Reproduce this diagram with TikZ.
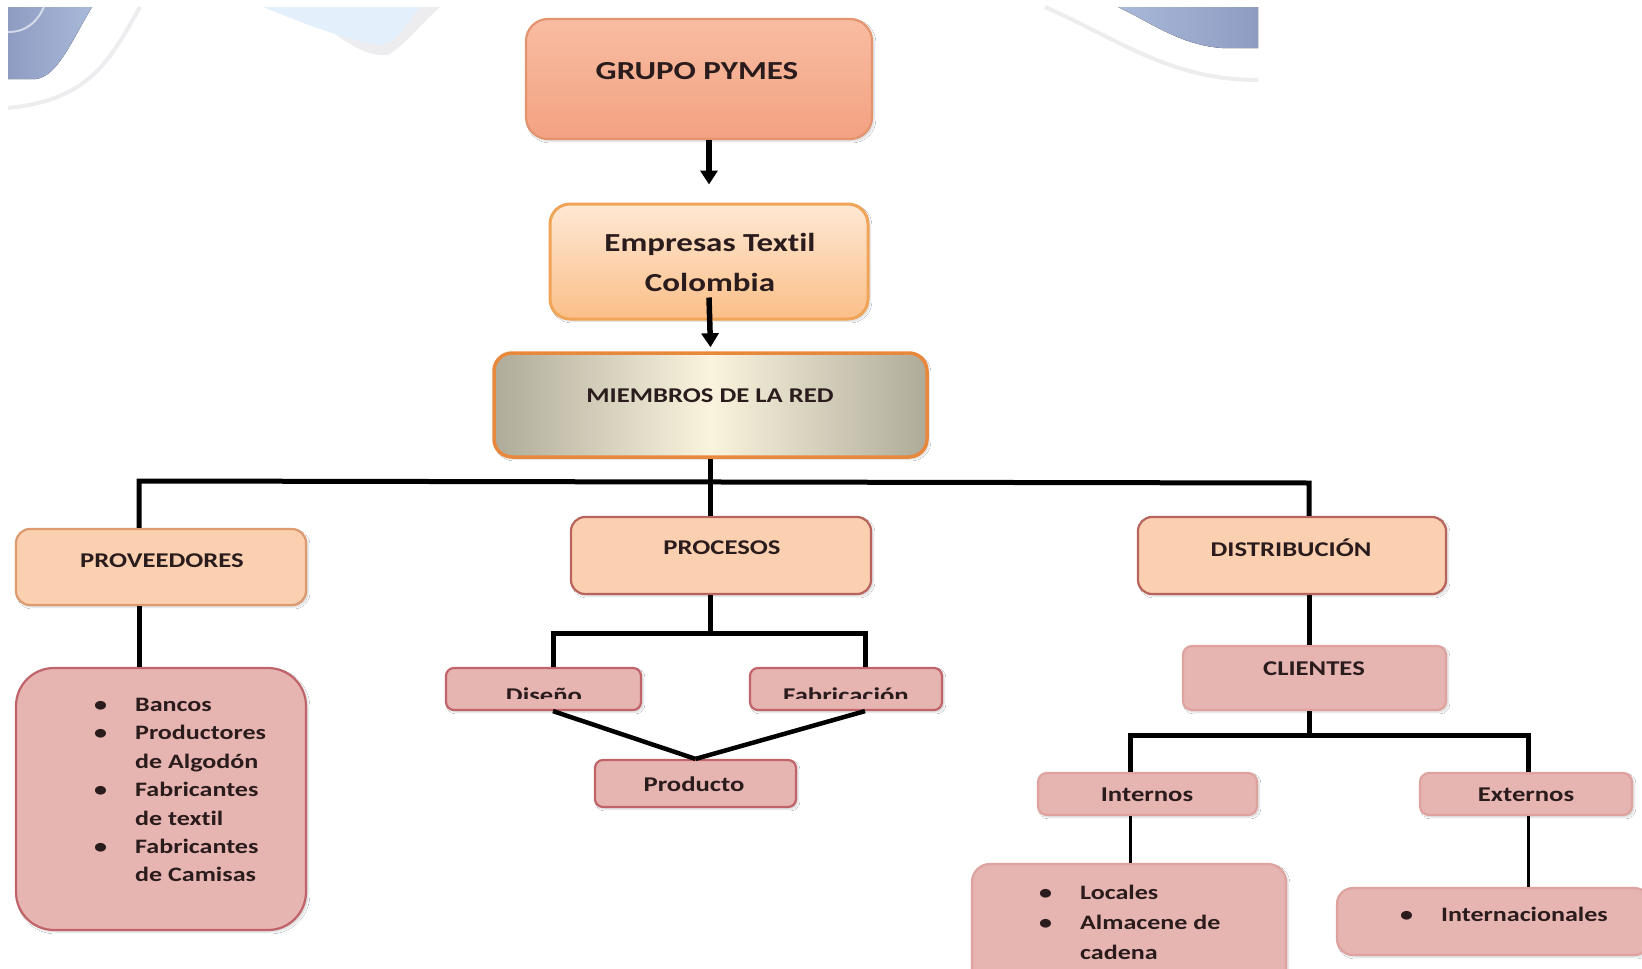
\documentclass[tikz,border=0pt]{standalone}
\usepackage{fontspec}
\setmainfont{Carlito}[FakeStretch=1.27, Ligatures=NoCommon]
\usetikzlibrary{arrows.meta,calc,shadows.blur}

\definecolor{txtcol}{HTML}{2A1C1C}
\definecolor{grupoTop}{HTML}{F8BCA2}
\definecolor{grupoBot}{HTML}{F3A281}
\definecolor{grupoLine}{HTML}{E4936F}
\definecolor{empTop}{HTML}{FEE8D4}
\definecolor{empBot}{HTML}{FBBF88}
\definecolor{empLine}{HTML}{F0A458}
\definecolor{redGrey}{HTML}{AEAB99}
\definecolor{redCream}{HTML}{FAF4DE}
\definecolor{redLine}{HTML}{E8883C}
\definecolor{peach}{HTML}{FBD0B1}
\definecolor{peachLine}{HTML}{DC9A6E}
\definecolor{peachLineDark}{HTML}{B8645C}
\definecolor{rose}{HTML}{E6B4B1}
\definecolor{roseLine}{HTML}{C0646A}
\definecolor{roseLineLight}{HTML}{DEA39E}
\definecolor{decoBlue}{HTML}{8E9CC2}
\definecolor{decoBlueL}{HTML}{A9B9D9}
\definecolor{decoSky}{HTML}{E3EFFA}
\definecolor{decoGrey}{HTML}{EDEDF0}

\tikzset{
  box/.style={draw, inner sep=0pt, line width=2.2pt,
    blur shadow={shadow xshift=2pt, shadow yshift=-2pt, shadow opacity=18, shadow blur steps=6}},
  grupobox/.style={box, rounded corners=22pt, draw=grupoLine, top color=grupoTop, bottom color=grupoBot},
  empbox/.style={box, rounded corners=20pt, draw=empLine, line width=3pt, top color=empTop, bottom color=empBot},
  redbox/.style={box, rounded corners=18pt, draw=redLine, line width=3.5pt, left color=redGrey, right color=redGrey, middle color=redCream},
  peachbox/.style={box, rounded corners=14pt, draw=peachLine, fill=peach},
  peachboxdark/.style={box, rounded corners=14pt, draw=peachLineDark, fill=peach},
  rosebox/.style={box, rounded corners=8pt, draw=roseLine, fill=rose},
  roseboxlight/.style={box, rounded corners=9pt, draw=roseLineLight, fill=rose},
  listbox/.style={box, rounded corners=38pt, draw=roseLine, fill=rose},
  lbl/.style={inner sep=0pt, text=txtcol, font=\bfseries\fontsize{21}{25}\selectfont},
  biglbl/.style={lbl, font=\bfseries\fontsize{26}{40}\selectfont},
  listlbl/.style={lbl, align=left, font=\bfseries\fontsize{20.5}{28.4}\selectfont},
  conn/.style={line width=5pt, black, line join=miter},
  midconn/.style={line width=4.5pt, black},
  thinconn/.style={line width=3pt, black},
  arr/.style={line width=5.5pt, black, -{Triangle[width=17pt,length=14pt]}},
}

\newcommand{\bul}{\makebox[41pt][l]{\textbullet}}
\newcommand{\ind}{\hspace*{41pt}}

\begin{document}
\begin{tikzpicture}[x=1pt,y=-1pt]
\useasboundingbox (0,0) rectangle (1642,969);
\fill[white] (0,0) rectangle (1642,969);

% faint decoration along the top edge
\draw[decoGrey, line width=4pt] (140,7) .. controls (110,60) and (90,100) .. (8,108);
\fill[left color=decoBlue, right color=decoBlueL] (8,7) -- (92,7) .. controls (72,40) and (58,76) .. (36,79) -- (8,79) -- cycle;
\draw[white, opacity=0.6, line width=2pt] (8,32) .. controls (28,32) and (38,20) .. (44,7);
\fill[decoGrey] (300,7) .. controls (330,30) and (360,58) .. (388,55) .. controls (405,45) and (420,25) .. (440,7) -- cycle;
\fill[decoSky] (263,7) -- (420,7) .. controls (405,25) and (398,44) .. (378,45) .. controls (340,38) and (300,22) .. (263,7) -- cycle;
\draw[decoGrey, line width=4pt] (1045,7) .. controls (1120,40) and (1170,80) .. (1258,80);
\fill[left color=decoBlueL, right color=decoBlue] (1118,7) -- (1258,7) -- (1258,48) -- (1222,48) .. controls (1180,45) and (1150,22) .. (1118,7) -- cycle;

% boxes
\node[grupobox, minimum width=346pt, minimum height=120pt] (grupo) at (699,79) {};
\node[empbox, minimum width=318pt, minimum height=115pt] (empresas) at (709,261.5) {};
\node[redbox, minimum width=433pt, minimum height=104pt] (miembros) at (710.5,405) {};
\node[peachbox, minimum width=290pt, minimum height=76pt] (proveedores) at (161,567) {};
\node[peachboxdark, minimum width=300pt, minimum height=77pt] (procesos) at (721,555.5) {};
\node[peachboxdark, minimum width=308pt, minimum height=77pt] (distribucion) at (1292,555.5) {};
\node[listbox, minimum width=290pt, minimum height=262pt] (provlist) at (161,799) {};
\node[rosebox, minimum width=195pt, minimum height=42pt] (diseno) at (543.5,689) {};
\node[rosebox, minimum width=192pt, minimum height=42pt] (fabricacion) at (846,689) {};
\node[rosebox, minimum width=201pt, minimum height=47pt] (producto) at (695.5,783.5) {};
\node[roseboxlight, minimum width=263pt, minimum height=64pt] (clientes) at (1314.5,678) {};
\node[roseboxlight, minimum width=219pt, minimum height=42pt] (internos) at (1147.5,794) {};
\node[roseboxlight, minimum width=212pt, minimum height=42pt] (externos) at (1526,794) {};
\node[roseboxlight, rounded corners=18pt, minimum width=314pt, minimum height=125pt] (locales) at (1129,926.5) {};
\node[roseboxlight, rounded corners=16pt, minimum width=313pt, minimum height=67pt] (internacionales) at (1493.5,921.5) {};

% box texts
\node[biglbl] (grupo-t) at (697,71) {GRUPO PYMES};
\node[biglbl, align=center] (empresas-t) at (710,262) {Empresas Textil\\Colombia};
\node[lbl] (miembros-t) at (710,396) {MIEMBROS DE LA RED};
\node[lbl] (proveedores-t) at (162,561) {PROVEEDORES};
\node[lbl] (procesos-t) at (722,548) {PROCESOS};
\node[lbl] (distribucion-t) at (1291,548) {DISTRIBUCIÓN};
\node[lbl] (clientes-t) at (1314,669) {CLIENTES};
\node[lbl] (producto-t) at (694,784) {Producto};
\node[lbl] (internos-t) at (1147,795) {Internos};
\node[lbl] (externos-t) at (1526,795) {Externos};
\begin{scope}
  \clip (400,600) rectangle (1000,698);
  \node[lbl, anchor=base] (diseno-t) at (544,702) {Diseño};
  \node[lbl, anchor=base] (fabricacion-t) at (846,702) {Fabricación};
\end{scope}
\node[listlbl, anchor=north west] (provlist-t) at (94,698)
  {\bul Bancos\\ \bul Productores\\ \ind de Algodón\\ \bul Fabricantes\\ \ind de textil\\ \bul Fabricantes\\ \ind de Camisas};
\node[listlbl, anchor=north west, font=\bfseries\fontsize{20.5}{30}\selectfont] (locales-t) at (1039,885)
  {\bul Locales\\ \bul Almacene de\\ \ind cadena};
\node[listlbl, anchor=north west] (internacionales-t) at (1400,907)
  {\bul Internacionales};

% connectors
\draw[arr] (grupo.south -| empresas.north) -- ([yshift=18pt]empresas.north);
\draw[arr] ([yshift=23pt]empresas.south) -- ([yshift=4pt]miembros.north);

\coordinate (bus) at (710,482);
\coordinate (busL) at (139,481);
\coordinate (busR) at (1309,483);
\draw[conn] (miembros.south) -- (miembros.south |- bus);
\draw[conn] (busL |- proveedores.north) -- (busL) -- (busR) -- (busR |- distribucion.north);
\draw[conn] (bus) -- (bus |- procesos.north);
\draw[conn] (busL |- proveedores.south) -- (busL |- provlist.north);

\coordinate (pbus) at (710,633);
\coordinate (pbusL) at (553,633);
\coordinate (pbusR) at (865,633);
\draw[conn] (pbus |- procesos.south) -- (pbus);
\draw[conn] (pbusL |- diseno.north) -- (pbusL) -- (pbusR) -- (pbusR |- fabricacion.north);
\draw[midconn] (pbusL |- diseno.south) -- (producto.north);
\draw[midconn] (pbusR |- fabricacion.south) -- (producto.north);

\draw[conn] (busR |- distribucion.south) -- (busR |- clientes.north);
\coordinate (cbus) at (1309,735);
\coordinate (cbusL) at (1130,735);
\coordinate (cbusR) at (1528,735);
\draw[conn] (cbus |- clientes.south) -- (cbus);
\draw[conn] (cbusL |- internos.north) -- (cbusL) -- (cbusR) -- (cbusR |- externos.north);
\draw[thinconn] (cbusL |- internos.south) -- (cbusL |- locales.north);
\draw[thinconn] (cbusR |- externos.south) -- (cbusR |- internacionales.north);
\end{tikzpicture}
\end{document}
